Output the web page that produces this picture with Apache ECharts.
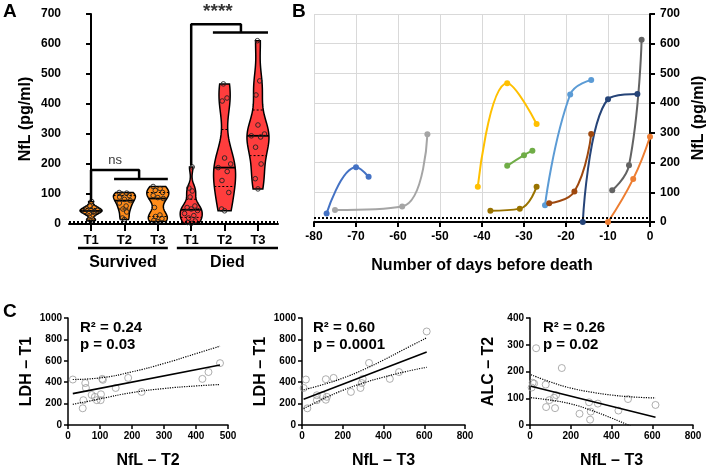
<!DOCTYPE html>
<html><head><meta charset="utf-8">
<script src="https://cdn.jsdelivr.net/npm/echarts@6/dist/echarts.min.js"></script>
<style>html,body{margin:0;padding:0;background:#fff}#c{width:709px;height:470px}</style>
</head><body><div id="c"></div>
<script>
// ================= DATA =================
// Panel A: NfL (pg/ml) violins
const aCategories = ['T1','T2','T3','T1','T2','T3'];
const aGroups = ['Survived','Died'];
const aGroupRanges = [[0,2],[3,5]];
const survivedT1 = [12, 15, 30, 35, 40, 42, 45, 47, 50, 55, 60, 75];
const survivedT2 = [15, 20, 40, 50, 60, 70, 78, 82, 90, 95, 100, 103, 105];
const survivedT3 = [8, 12, 18, 25, 30, 55, 85, 88, 95, 105, 112, 118, 125];
const diedT1 = [2, 5, 10, 20, 28, 35, 45, 50, 55, 60, 90, 110, 120, 190];
const diedT2 = [44, 50, 105, 145, 175, 188, 200, 220, 410, 420, 467];
const diedT3 = [117, 151, 200, 256, 290, 294, 300, 330, 430, 477, 611];
const aViolins = [survivedT1, survivedT2, survivedT3, diedT1, diedT2, diedT3];
const aDetectionLimit = 7;
// significance brackets [category position, NfL]
const bracketNsA = [[0, 80], [0, 180], [1.44, 180], [1.44, 150]];
const bracketNsB = [[0.69, 150], [2.30, 150]];
const bracketSigA = [[3, 195], [3, 666], [4.49, 666], [4.49, 638]];
const bracketSigB = [[3.65, 638], [5.30, 638]];
const sigLabels = [{ value: [0.72, 213], name: 'ns' }, { value: [3.8, 707], name: '****' }];

// Panel B: NfL vs days before death, per patient
const bPatients = {
  p1: [[-77, 29], [-70, 184], [-67, 152]],
  p2: [[-75, 40], [-59, 52], [-53, 295]],
  p3: [[-41, 119], [-34, 467], [-27, 330]],
  p4: [[-34, 189], [-30, 225], [-28, 240]],
  p5: [[-38, 38], [-31, 45], [-27, 119]],
  p6: [[-25, 56], [-19, 429], [-14, 478]],
  p7: [[-24, 63], [-18, 103], [-14, 296]],
  p8: [[-16, 0], [-10, 413], [-3, 431]],
  p9: [[-9, 107], [-5, 191], [-2, 613]],
  p10: [[-10, 0], [-4, 145], [0, 287]]
};
const bDetectionLimit = 13;

// Panel C: correlations (points, fitted line, 95% confidence band)
const c1NfL = [15, 54, 56, 48, 46, 74, 84, 90, 102, 103, 107, 109, 149, 188, 230, 420, 439, 475];
const c1LDH = [425, 392, 346, 232, 156, 281, 263, 232, 232, 287, 431, 422, 346, 440, 309, 431, 495, 578];
const c1FitX = [15, 475], c1Fit = [293, 560];
const c1BandX = [15, 100, 200, 300, 400, 475];
const c1Upper = [425, 440, 497, 575, 667, 737];
const c1Lower = [193, 244, 303, 341, 365, 378];

const c2NfL = [8, 19, 26, 73, 73, 100, 117, 117, 122, 155, 240, 287, 293, 298, 329, 431, 476, 612];
const c2LDH = [346, 425, 156, 278, 232, 278, 428, 236, 263, 440, 309, 346, 392, 431, 580, 431, 495, 874];
const c2FitX = [8, 612], c2Fit = [241, 682];
const c2BandX = [8, 100, 200, 300, 400, 500, 612];
const c2Upper = [329, 376, 438, 516, 607, 706, 815];
const c2Lower = [153, 240, 324, 392, 447, 495, 540];

const c3NfL = [8, 13, 20, 30, 77, 79, 95, 118, 123, 128, 156, 243, 290, 295, 298, 333, 434, 481, 616];
const c3ALC = [140, 158, 155, 287, 151, 67, 93, 102, 63, 112, 213, 42, 85, 20, 50, 80, 54, 97, 75];
const c3FitX = [5, 616], c3Fit = [145, 29];
const c3BandX = [5, 100, 200, 300, 400, 500, 616];
const c3Upper = [188, 161, 138, 123, 112, 105, 101];
const c3Lower = [102, 93, 79, 55, 26, -6, -44];

const cStats = ['R\u00b2 = 0.24\np = 0.03', 'R\u00b2 = 0.60\np = 0.0001', 'R\u00b2 = 0.26\np = 0.02'];

// ================= STYLE =================
const FONT = '"Liberation Sans", Arial, Helvetica, sans-serif';
const violinColors = ['#FF8C1A', '#FF8C1A', '#FF8C1A', '#FF3D3D', '#FF3D3D', '#FF3D3D'];
const bColors = {p1:'#4472C4', p2:'#A5A5A5', p3:'#FFC000', p4:'#70AD47', p5:'#997300',
  p6:'#5B9BD5', p7:'#9E480E', p8:'#264478', p9:'#636363', p10:'#ED7D31'};
const groupPad = [[0.39, 0.30], [0.43, 0.60]];

// ================= HELPERS =================
function kde(pts, h, y) { let s = 0; for (const p of pts) { const u = (y - p) / h; s += Math.exp(-0.5 * u * u); } return s; }
function quantile(s, q) { const pos = (s.length - 1) * q, lo = Math.floor(pos), hi = Math.ceil(pos); return s[lo] + (s[hi] - s[lo]) * (pos - lo); }
const zip = (xs, ys) => xs.map((x, i) => [x, ys[i]]);

function violinItem(params, api) {
  const idx = api.value(0);
  const pts = aViolins[idx].slice().sort((a, b) => a - b);
  const n = pts.length;
  const mean = pts.reduce((a, b) => a + b, 0) / n;
  const sd = Math.sqrt(pts.reduce((a, b) => a + (b - mean) * (b - mean), 0) / (n - 1));
  const iqr = quantile(pts, 0.75) - quantile(pts, 0.25);
  const h = 0.75 * Math.min(sd, iqr / 1.34) * Math.pow(n, -0.2);
  const lo = pts[0], hi = pts[n - 1];
  const N = 60; const dens = []; let maxD = 0;
  for (let k = 0; k <= N; k++) { const y = lo + (hi - lo) * k / N; const d = kde(pts, h, y); dens.push([y, d]); if (d > maxD) maxD = d; }
  const halfW = api.size([0.33, 0])[0];
  const cx = api.coord([idx, 0])[0];
  const widthAt = y => kde(pts, h, y) / maxD * halfW;
  const right = [], left = [];
  dens.forEach(([y, d]) => { const py = api.coord([idx, y])[1]; const w = d / maxD * halfW; right.push([cx + w, py]); left.unshift([cx - w, py]); });
  const children = [{ type: 'polygon', shape: { points: right.concat(left) },
    style: { fill: violinColors[idx], stroke: '#000', lineWidth: 1.5 } }];
  const med = quantile(pts, 0.5), q1 = quantile(pts, 0.25), q3 = quantile(pts, 0.75);
  [[med, false], [q1, true], [q3, true]].forEach(([v, dashed]) => {
    const py = api.coord([idx, v])[1]; const w = widthAt(v);
    children.push({ type: 'line', shape: { x1: cx - w, y1: py, x2: cx + w, y2: py },
      style: { stroke: '#000', lineWidth: dashed ? 1 : 1.8, lineDash: dashed ? [2, 2] : null } });
  });
  const jit = [0, -0.55, 0.55, -0.3, 0.3, -0.75, 0.75];
  pts.forEach((v, k) => {
    const c = api.coord([idx, v]);
    children.push({ type: 'circle', shape: { cx: cx + jit[k % 7] * widthAt(v) * 0.8, cy: c[1], r: 2.3 },
      style: { fill: 'none', stroke: '#222', lineWidth: 0.9 } });
  });
  return { type: 'group', children };
}

function groupItem(params, api) {
  const i = api.value(0);
  const r = aGroupRanges[i];
  const x1 = api.coord([r[0] - groupPad[i][0], 0])[0];
  const x2 = api.coord([r[1] + groupPad[i][1], 0])[0];
  const y0 = api.coord([0, 0])[1];
  return { type: 'group', children: [
    { type: 'line', shape: { x1, y1: y0 + 24, x2, y2: y0 + 24 }, style: { stroke: '#000', lineWidth: 2.5 } },
    { type: 'text', x: (x1 + x2) / 2, y: y0 + 39, style: { text: aGroups[i], fontFamily: FONT, fontSize: 16, fontWeight: 'bold', fill: '#000', align: 'center', verticalAlign: 'middle' } }
  ] };
}

// ================= OPTION =================
const boldLabel = (size) => ({ color: '#000', fontFamily: FONT, fontWeight: 'bold', fontSize: size });
const blackLine = (w) => ({ show: true, lineStyle: { color: '#000', width: w } });

const grids = [
  { left: 69, top: 14, width: 209, height: 210 },
  { left: 314, top: 14, width: 336, height: 208 },
  { left: 68, top: 318, width: 160, height: 109 },
  { left: 302, top: 318, width: 163, height: 109 },
  { left: 530, top: 318, width: 163, height: 109 }
];

const cSets = [
  { pts: zip(c1NfL, c1LDH), fit: zip(c1FitX, c1Fit), up: zip(c1BandX, c1Upper), lw: zip(c1BandX, c1Lower) },
  { pts: zip(c2NfL, c2LDH), fit: zip(c2FitX, c2Fit), up: zip(c2BandX, c2Upper), lw: zip(c2BandX, c2Lower) },
  { pts: zip(c3NfL, c3ALC), fit: zip(c3FitX, c3Fit), up: zip(c3BandX, c3Upper), lw: zip(c3BandX, c3Lower) }
];
const cX = [{ max: 500, interval: 100, name: 'NfL \u2013 T2' }, { max: 800, interval: 200, name: 'NfL \u2013 T3' }, { max: 800, interval: 200, name: 'NfL \u2013 T3' }];
const cY = [{ max: 1000, interval: 200, name: 'LDH \u2013 T1' }, { max: 1000, interval: 200, name: 'LDH \u2013 T1' }, { max: 400, interval: 100, name: 'ALC \u2013 T2' }];

const xAxes = [
  { type: 'value', gridIndex: 0, min: -0.66, max: 5.6, axisLine: blackLine(2),
    axisTick: { show: true, customValues: [0, 1, 2, 3, 4, 5], length: 7, lineStyle: { color: '#000', width: 2 } },
    axisLabel: Object.assign(boldLabel(13), { customValues: [0, 1, 2, 3, 4, 5], margin: 10, formatter: v => aCategories[Math.round(v)] }),
    splitLine: { show: false } },
  { type: 'value', gridIndex: 1, min: -80, max: 0, interval: 10, axisLine: blackLine(2),
    axisTick: { show: true, length: 5, lineStyle: { color: '#000', width: 2 } },
    axisLabel: Object.assign(boldLabel(12), { margin: 9 }),
    splitLine: { show: true, lineStyle: { color: '#d9d9d9', width: 1 } },
    name: 'Number of days before death', nameLocation: 'middle', nameGap: 36, nameTextStyle: boldLabel(16) }
];
const yAxes = [
  { type: 'value', gridIndex: 0, min: 0, max: 700, interval: 100, axisLine: blackLine(2),
    axisTick: { show: true, length: 5, lineStyle: { color: '#000', width: 2 } },
    axisLabel: Object.assign(boldLabel(12), { margin: 8 }), splitLine: { show: false },
    name: 'NfL (pg/ml)', nameLocation: 'middle', nameGap: 35, nameTextStyle: boldLabel(16) },
  { type: 'value', gridIndex: 1, position: 'right', min: 0, max: 700, interval: 100, axisLine: blackLine(2),
    axisTick: { show: true, length: 5, lineStyle: { color: '#000', width: 2 } },
    axisLabel: Object.assign(boldLabel(12), { margin: 10 }),
    splitLine: { show: true, lineStyle: { color: '#d9d9d9', width: 1 } },
    name: 'NfL (pg/ml)', nameLocation: 'middle', nameGap: 41, nameRotate: 90, nameTextStyle: boldLabel(16) }
];
cX.forEach((c, i) => xAxes.push({ type: 'value', gridIndex: i + 2, min: 0, max: c.max, interval: c.interval,
  axisLine: blackLine(1.5), axisTick: { show: true, length: 4, lineStyle: { color: '#000', width: 1.5 } },
  axisLabel: Object.assign(boldLabel(10), { margin: 6, formatter: v => String(v) }), splitLine: { show: false },
  name: c.name, nameLocation: 'middle', nameGap: 28, nameTextStyle: boldLabel(16) }));
cY.forEach((c, i) => yAxes.push({ type: 'value', gridIndex: i + 2, min: 0, max: c.max, interval: c.interval,
  axisLine: blackLine(1.5), axisTick: { show: true, length: 4, lineStyle: { color: '#000', width: 1.5 } },
  axisLabel: Object.assign(boldLabel(10), { margin: 6, formatter: v => String(v) }), splitLine: { show: false },
  name: c.name, nameLocation: 'middle', nameGap: 33, nameTextStyle: boldLabel(16) }));

const series = [];
// Panel A
series.push({ type: 'custom', xAxisIndex: 0, yAxisIndex: 0, renderItem: violinItem, data: aViolins.map((_, i) => [i]), z: 3,
  markLine: { silent: true, symbol: 'none', label: { show: false }, lineStyle: { color: '#000', type: 'dotted', width: 2 }, data: [{ yAxis: aDetectionLimit }] } });
[bracketNsA, bracketNsB, bracketSigA, bracketSigB].forEach(d => series.push({ type: 'line', xAxisIndex: 0, yAxisIndex: 0, data: d,
  symbol: 'none', lineStyle: { color: '#000', width: 2.5 }, z: 4, clip: false }));
series.push({ type: 'scatter', xAxisIndex: 0, yAxisIndex: 0, data: [sigLabels[0]], symbolSize: 0, clip: false,
  label: { show: true, position: 'inside', formatter: p => p.name, color: '#000', fontFamily: FONT, fontSize: 13 } });
series.push({ type: 'scatter', xAxisIndex: 0, yAxisIndex: 0, data: [sigLabels[1]], symbolSize: 0, clip: false,
  label: { show: true, position: 'inside', formatter: p => p.name, color: '#000', fontFamily: FONT, fontSize: 19, fontWeight: 'bold' } });
series.push({ type: 'custom', xAxisIndex: 0, yAxisIndex: 0, renderItem: groupItem, data: aGroups.map((_, i) => [i]), clip: false });

// Panel B
Object.keys(bPatients).forEach((k, i) => {
  const s = { type: 'line', xAxisIndex: 1, yAxisIndex: 1, data: bPatients[k], smooth: 0.45,
    symbol: 'circle', symbolSize: 6, color: bColors[k], lineStyle: { width: 2, color: bColors[k] }, itemStyle: { color: bColors[k] }, z: 3 };
  if (i === 0) s.markLine = { silent: true, symbol: 'none', label: { show: false }, lineStyle: { color: '#000', type: 'dotted', width: 2 }, data: [{ yAxis: bDetectionLimit }] };
  series.push(s);
});

// Panel C
cSets.forEach((c, i) => {
  series.push({ type: 'scatter', xAxisIndex: i + 2, yAxisIndex: i + 2, data: c.pts,
    symbol: 'circle', symbolSize: 7, itemStyle: { color: 'rgba(255,255,255,0)', borderColor: '#9a9a9a', borderWidth: 1 } });
  series.push({ type: 'line', xAxisIndex: i + 2, yAxisIndex: i + 2, data: c.fit, symbol: 'none', lineStyle: { color: '#000', width: 1.6 } });
  series.push({ type: 'line', xAxisIndex: i + 2, yAxisIndex: i + 2, data: c.up, smooth: 0.5, symbol: 'none', lineStyle: { color: '#000', width: 1.2, type: 'dotted' } });
  series.push({ type: 'line', xAxisIndex: i + 2, yAxisIndex: i + 2, data: c.lw, smooth: 0.5, symbol: 'none', lineStyle: { color: '#000', width: 1.2, type: 'dotted' } });
});

const titles = [
  { text: 'A', left: 3, top: 2 }, { text: 'B', left: 292, top: 2 }, { text: 'C', left: 3, top: 302 }
].map(t => Object.assign(t, { padding: 0, textStyle: boldLabel(19) }));
const statLeft = [80, 313, 543];
cStats.forEach((s, i) => titles.push({ text: s, left: statLeft[i], top: 319, padding: 0,
  textStyle: Object.assign(boldLabel(15), { lineHeight: 17 }) }));

const chart = echarts.init(document.getElementById('c'));
chart.setOption({ animation: false, backgroundColor: '#fff', title: titles, grid: grids, xAxis: xAxes, yAxis: yAxes, series });
</script></body></html>
